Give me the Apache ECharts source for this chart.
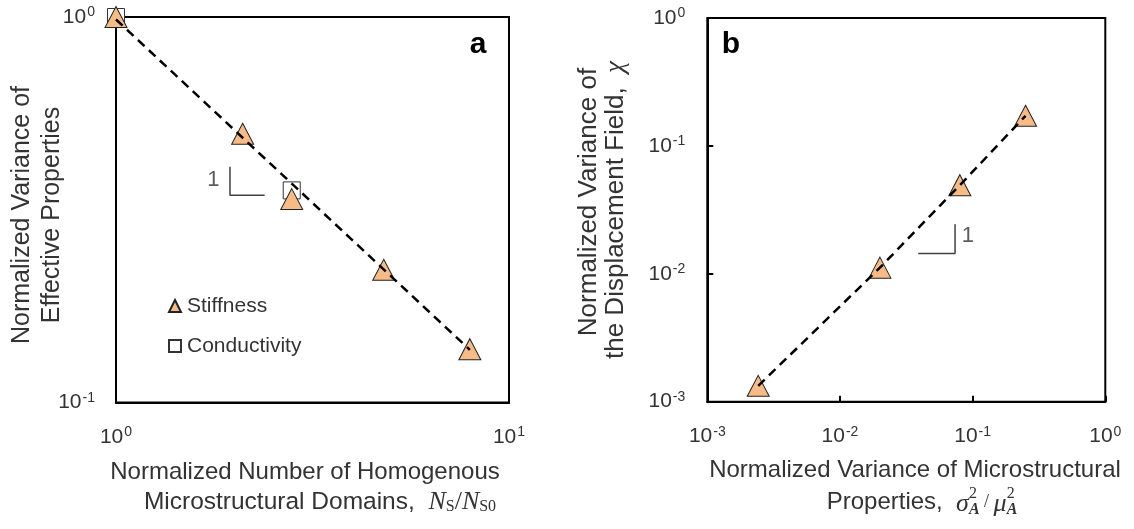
<!DOCTYPE html>
<html>
<head>
<meta charset="utf-8">
<script src="https://cdn.jsdelivr.net/npm/echarts@6/dist/echarts.min.js"></script>
<style>
  html, body { margin: 0; padding: 0; background: #fff; }
  #chart { width: 1134px; height: 529px; }
</style>
</head>
<body>
<div id="chart"></div>
<script>
// ---- Panel a: variance of effective properties vs. number of domains ----
const domainRatio     = [1, 2.1, 2.8, 4.8, 7.95];
const stiffnessVar    = [1, 0.498, 0.337, 0.221, 0.1375];
const condDomainRatio = [1, 2.8];
const conductivityVar = [1, 0.355];
const fitA_x = [1, 7.95];
const fitA_y = [0.985, 0.137];
// slope guide for panel a (the "1" marker)
const guideA_x = [1.95, 1.95, 2.39];
const guideA_y = [0.409, 0.345, 0.345];
const guideA_label = [1.77, 0.378];

// ---- Panel b: displacement-field variance vs. property variance ----
const propVariance = [0.00242, 0.0200, 0.0801, 0.2506];
const dispVariance = [0.00133, 0.01117, 0.0493, 0.172];
const guideB_x = [0.0389, 0.0737, 0.0737];
const guideB_y = [0.0144, 0.0144, 0.0244];
const guideB_label = [0.092, 0.0196];

// ---- axis ranges ----
const axisA_x = [1, 10];
const axisA_y = [0.1, 1];
const axisB_x = [0.001, 1];
const axisB_y = [0.001, 1];

const SANS = 'Liberation Sans';
const SERIF = 'Liberation Serif';
const TEXT = '#333333';
const ORANGE = '#F7BB87';

const zip = (xs, ys) => xs.map((x, i) => [x, ys[i]]);

// measuring for hand-built math runs
const mctx = document.createElement('canvas').getContext('2d');
function fontStr(p) {
  return (p.style || 'normal') + ' ' + (p.weight || 'normal') + ' ' + p.size + 'px "' + p.family + '"';
}
function measure(p) { mctx.font = fontStr(p); return mctx.measureText(p.t).width; }

// a line of mixed text / math pieces, centred at (cx, cy); optional rotation
function mathRun(pieces, cx, cy, rotation) {
  let x = 0, prevX = 0;
  const kids = [];
  pieces.forEach(p => {
    const w = measure(p);
    let px;
    if (p.stack) { px = prevX; x = Math.max(x, prevX + w); }
    else { px = x; x += w; }
    kids.push({
      type: 'text', x: px, y: p.dy || 0, silent: true,
      style: { text: p.t, font: fontStr(p), fill: TEXT, align: 'left', verticalAlign: 'middle' }
    });
    prevX = px;
  });
  kids.forEach(k => { k.x -= x / 2; });
  return { type: 'group', x: cx, y: cy, rotation: rotation || 0, children: kids };
}
const T = (t, size) => ({ t, size: size || 24, family: SANS });

function powLabel(v) {
  return '{b|10}{s|' + Math.round(Math.log10(v)) + '}';
}
const tickRich = {
  b: { fontSize: 21, fontFamily: SANS, color: TEXT, lineHeight: 23 },
  s: { fontSize: 14, fontFamily: SANS, color: TEXT, lineHeight: 15, verticalAlign: 'top', padding: [0, 0, 0, 1] }
};

function logAxis(gridIndex, range, isX, ticks, margin) {
  return {
    type: 'log', logBase: 10, gridIndex,
    min: range[0], max: range[1],
    axisLine: { show: true, onZero: false, lineStyle: { color: '#000', width: 2 } },
    axisTick: { show: ticks, inside: true, length: 6, lineStyle: { color: '#000', width: 2 } },
    minorTick: { show: false },
    splitLine: { show: false },
    axisLabel: {
      show: true, margin, formatter: powLabel, rich: tickRich,
      showMinLabel: true, showMaxLabel: true,
      align: isX ? 'center' : 'right'
    }
  };
}

const gridBase = { show: true, borderColor: '#000', borderWidth: 2, backgroundColor: 'transparent',
                   containLabel: false, outerBoundsMode: 'none' };

const chart = echarts.init(document.getElementById('chart'), null, { renderer: 'canvas' });

const option = {
  animation: false,
  backgroundColor: '#fff',
  grid: [
    Object.assign({ left: 116, top: 17, width: 393, height: 385.5 }, gridBase),
    Object.assign({ left: 707.3, top: 18, width: 398, height: 383.7 }, gridBase)
  ],
  xAxis: [
    logAxis(0, axisA_x, true, false, 23),
    logAxis(1, axisB_x, true, true, 23)
  ],
  yAxis: [
    logAxis(0, axisA_y, false, false, 21),
    logAxis(1, axisB_y, false, true, 22)
  ],
  legend: {
    orient: 'vertical', left: 168, top: 294, padding: 0,
    itemWidth: 12, itemHeight: 12, itemGap: 16, selectedMode: false,
    textStyle: { fontSize: 21, fontFamily: SANS, color: TEXT, lineHeight: 24, padding: [0, 0, 0, 1] },
    data: [{ name: 'Stiffness' }, { name: 'Conductivity' }]
  },
  series: [
    {
      name: 'Conductivity', type: 'scatter', xAxisIndex: 0, yAxisIndex: 0, z: 2,
      symbol: 'rect', symbolSize: 17,
      itemStyle: { color: '#fff', borderColor: '#333', borderWidth: 1, opacity: 1 },
      data: zip(condDomainRatio, conductivityVar)
    },
    {
      name: 'Stiffness', type: 'scatter', xAxisIndex: 0, yAxisIndex: 0, z: 3,
      symbol: 'triangle', symbolSize: [22, 21],
      itemStyle: { color: ORANGE, borderColor: '#222', borderWidth: 1, opacity: 1 },
      data: zip(domainRatio, stiffnessVar)
    },
    {
      name: 'Power-law fit', type: 'line', xAxisIndex: 0, yAxisIndex: 0, z: 4, silent: true,
      symbol: 'none', lineStyle: { color: '#000', width: 2.5, type: [9, 6] },
      data: zip(fitA_x, fitA_y)
    },
    {
      name: 'Slope a', type: 'line', xAxisIndex: 0, yAxisIndex: 0, z: 4, silent: true,
      symbol: 'none', lineStyle: { color: '#404040', width: 1.5 },
      data: zip(guideA_x, guideA_y)
    },
    {
      name: 'Slope a label', type: 'scatter', xAxisIndex: 0, yAxisIndex: 0, z: 4, silent: true,
      symbolSize: 0,
      label: { show: true, position: 'inside', formatter: '1', fontSize: 22, fontFamily: SANS, color: TEXT },
      data: [guideA_label]
    },
    {
      name: 'Displacement variance', type: 'scatter', xAxisIndex: 1, yAxisIndex: 1, z: 3,
      symbol: 'triangle', symbolSize: [22, 21],
      itemStyle: { color: ORANGE, borderColor: '#222', borderWidth: 1, opacity: 1 },
      data: zip(propVariance, dispVariance)
    },
    {
      name: 'Displacement trend', type: 'line', xAxisIndex: 1, yAxisIndex: 1, z: 4, silent: true,
      symbol: 'none', lineStyle: { color: '#000', width: 2.5, type: [9, 6] },
      data: zip(propVariance, dispVariance)
    },
    {
      name: 'Slope b', type: 'line', xAxisIndex: 1, yAxisIndex: 1, z: 4, silent: true,
      symbol: 'none', lineStyle: { color: '#404040', width: 1.5 },
      data: zip(guideB_x, guideB_y)
    },
    {
      name: 'Slope b label', type: 'scatter', xAxisIndex: 1, yAxisIndex: 1, z: 4, silent: true,
      symbolSize: 0,
      label: { show: true, position: 'inside', formatter: '1', fontSize: 22, fontFamily: SANS, color: TEXT },
      data: [guideB_label]
    }
  ],
  graphic: [
    // panel letters
    { type: 'text', x: 478, y: 45, silent: true,
      style: { text: 'a', font: 'bold 30px "Liberation Sans"', fill: '#000', align: 'center', verticalAlign: 'middle' } },
    { type: 'text', x: 731, y: 45, silent: true,
      style: { text: 'b', font: 'bold 30px "Liberation Sans"', fill: '#000', align: 'center', verticalAlign: 'middle' } },

    // panel a, y title
    mathRun([T('Normalized Variance of', 25)], 22, 215, Math.PI / 2),
    mathRun([T('Effective Properties', 25)], 52, 215, Math.PI / 2),
    // panel a, x title
    mathRun([T('Normalized Number of Homogenous')], 305, 472),
    mathRun([
      T('Microstructural Domains,  ', 24.5),
      { t: 'N', size: 26, family: SERIF, style: 'italic' },
      { t: 'S', size: 16, family: SERIF, dy: 5 },
      { t: '/', size: 26, family: SERIF },
      { t: 'N', size: 26, family: SERIF, style: 'italic' },
      { t: 'S0', size: 16, family: SERIF, dy: 5 }
    ], 320, 502),

    // panel b, y title
    mathRun([T('Normalized Variance of', 26)], 589, 202, Math.PI / 2),
    mathRun([
      T('the Displacement Field,  ', 26),
      { t: 'χ', size: 27, family: SERIF, style: 'italic' }
    ], 616, 210, Math.PI / 2),
    // panel b, x title
    mathRun([T('Normalized Variance of Microstructural')], 915, 470),
    mathRun([
      T('Properties,  '),
      { t: 'σ', size: 26, family: SERIF, style: 'italic', dy: 2 },
      { t: '2', size: 16, family: SERIF, dy: -8 },
      { t: 'A', size: 16, family: SERIF, style: 'italic', weight: 'bold', dy: 8, stack: true },
      { t: ' / ', size: 18, family: SERIF },
      { t: 'μ', size: 26, family: SERIF, style: 'italic', dy: 2 },
      { t: '2', size: 16, family: SERIF, dy: -8 },
      { t: 'A', size: 16, family: SERIF, style: 'italic', weight: 'bold', dy: 8, stack: true }
    ], 922, 502)
  ]
};

chart.setOption(option);
</script>
</body>
</html>
